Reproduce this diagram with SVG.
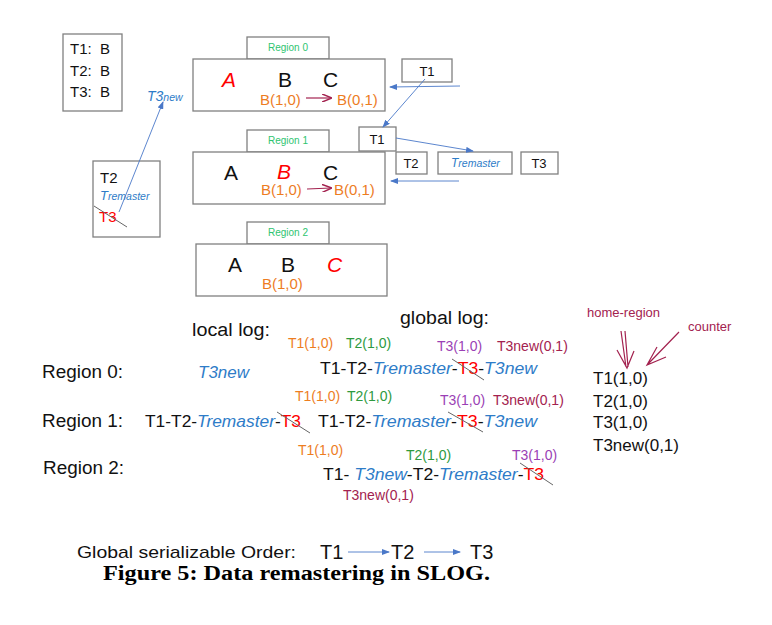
<svg xmlns="http://www.w3.org/2000/svg" width="772" height="625" viewBox="0 0 772 625">
<defs>
<style>
text{font-family:"Liberation Sans",Arial,sans-serif;}
text.cap{font-family:"Liberation Serif","Times New Roman",serif;font-weight:bold;}
.box{fill:#fff;stroke:#808080;stroke-width:1.3;}
.reg{font-size:10px;fill:#2ec46f;}
.big{font-size:21px;fill:#111;}
.red{fill:#ff0000;font-style:italic;}
.or{fill:#ed7d1f;}
.gr{fill:#2e9a3e;}
.pu{fill:#9b3fb5;}
.cr{fill:#a3224f;}
.bl{fill:#2e7cc8;font-style:italic;}
.t{fill:#111;}
.conn{stroke:#4a78c8;stroke-width:0.9;fill:none;}
.strike{stroke:#666;stroke-width:1;fill:none;}
.hand{stroke:#a3224f;stroke-width:1.2;fill:none;}
</style>
<marker id="ah" markerWidth="8" markerHeight="6" refX="7" refY="3" orient="auto" markerUnits="userSpaceOnUse">
<path d="M0,0 L8,3 L0,6 z" fill="#4a78c8"/>
</marker>
<marker id="ahd" markerWidth="10" markerHeight="8" refX="9" refY="4" orient="auto" markerUnits="userSpaceOnUse">
<path d="M0,0 L10,4 L0,8" fill="none" stroke="#a3224f" stroke-width="1.5"/>
</marker>
</defs>
<rect width="772" height="625" fill="#fff"/>

<g id="txn-map">
<rect class="box" x="63" y="34" width="59" height="77"/>
<text x="70" y="54" font-size="15" class="t">T1:</text><text x="100" y="54" font-size="15" class="t">B</text>
<text x="70" y="76" font-size="15" class="t">T2:</text><text x="100" y="76" font-size="15" class="t">B</text>
<text x="70" y="97" font-size="15" class="t">T3:</text><text x="100" y="97" font-size="15" class="t">B</text>
</g>

<g id="t3new-label">
<text x="147" y="101" class="bl" font-size="14">T3<tspan font-size="10.5">new</tspan></text>
</g>

<g id="left-box">
<rect class="box" x="93" y="161" width="67" height="76"/>
<text x="100" y="183" font-size="15" class="t">T2</text>
<text x="100" y="200" font-size="13" class="bl">T<tspan font-size="10.5">remaster</tspan></text>
<text x="99" y="222" font-size="15" fill="#ff0000">T3</text>
<line class="strike" x1="94" y1="206" x2="127" y2="227"/>
</g>

<g id="region0">
<rect class="box" x="247" y="37" width="82" height="22"/>
<text class="reg" x="288" y="51" text-anchor="middle">Region  0</text>
<rect class="box" x="193" y="59" width="192" height="52"/>
<text class="big red" x="222" y="87">A</text>
<text class="big" x="278" y="87">B</text>
<text class="big" x="323" y="87">C</text>
<text class="or" x="260" y="105" font-size="15">B(1,0)</text>
<text class="or" x="337" y="105" font-size="15">B(0,1)</text>
<line x1="306" y1="98" x2="331" y2="98" class="hand" marker-end="url(#ahd)"/>
</g>

<g id="t1-top">
<rect class="box" x="402" y="59" width="50" height="23"/>
<text x="427" y="76" font-size="13" class="t" text-anchor="middle">T1</text>
</g>

<g id="region1">
<rect class="box" x="247" y="130" width="82" height="22"/>
<text class="reg" x="288" y="144" text-anchor="middle">Region  1</text>
<rect class="box" x="193" y="152" width="192" height="52"/>
<text class="big" x="224" y="180">A</text>
<text class="big red" x="277" y="179">B</text>
<text class="big" x="323" y="180">C</text>
<text class="or" x="261" y="195" font-size="15">B(1,0)</text>
<text class="or" x="334" y="195" font-size="15">B(0,1)</text>
<line x1="307" y1="189" x2="331" y2="188" class="hand" marker-end="url(#ahd)"/>
</g>

<g id="t1-mid">
<rect class="box" x="359" y="127" width="37" height="24"/>
<text x="377" y="144" font-size="13" class="t" text-anchor="middle">T1</text>
</g>
<g id="t2-mid">
<rect class="box" x="396" y="152" width="31" height="22"/>
<text x="411" y="168" font-size="13" class="t" text-anchor="middle">T2</text>
</g>
<g id="tremaster-mid">
<rect class="box" x="438" y="152" width="74" height="22"/>
<text x="451" y="167" font-size="12" class="bl">T<tspan font-size="10.5">remaster</tspan></text>
</g>
<g id="t3-mid">
<rect class="box" x="521" y="152" width="37" height="22"/>
<text x="539" y="168" font-size="13" class="t" text-anchor="middle">T3</text>
</g>

<g id="region2">
<rect class="box" x="247" y="222" width="82" height="22"/>
<text class="reg" x="288" y="236" text-anchor="middle">Region  2</text>
<rect class="box" x="196" y="244" width="191" height="52"/>
<text class="big" x="228" y="272">A</text>
<text class="big" x="281" y="272">B</text>
<text class="big red" x="327" y="272">C</text>
<text class="or" x="262" y="289" font-size="15">B(1,0)</text>
</g>

<g id="connectors">
<line class="conn" x1="460" y1="86" x2="390" y2="87" marker-end="url(#ah)"/>
<line class="conn" x1="425" y1="79" x2="383" y2="127" marker-end="url(#ah)"/>
<line class="conn" x1="396" y1="138" x2="473" y2="151" marker-end="url(#ah)"/>
<line class="conn" x1="459" y1="181" x2="391" y2="181" marker-end="url(#ah)"/>
<line class="conn" x1="119" y1="212" x2="163" y2="102" marker-end="url(#ah)"/>
<line class="conn" x1="348" y1="552" x2="389" y2="552" marker-end="url(#ah)"/>
<line class="conn" x1="424" y1="552" x2="460" y2="552" marker-end="url(#ah)"/>
</g>

<g id="logs">
<text x="192" y="336" font-size="18" class="t" textLength="78" lengthAdjust="spacingAndGlyphs">local log:</text>
<text x="400" y="324" font-size="18" class="t" textLength="89" lengthAdjust="spacingAndGlyphs">global log:</text>

<text x="42" y="378" font-size="18" class="t" textLength="81" lengthAdjust="spacingAndGlyphs">Region 0:</text>
<text x="42" y="427" font-size="18" class="t" textLength="81" lengthAdjust="spacingAndGlyphs">Region 1:</text>
<text x="43" y="474" font-size="18" class="t" textLength="81" lengthAdjust="spacingAndGlyphs">Region 2:</text>

<text x="198" y="378" font-size="17" class="bl" textLength="51" lengthAdjust="spacingAndGlyphs">T3new</text>
<text x="145" y="427" font-size="17" class="t" textLength="156" lengthAdjust="spacingAndGlyphs">T1-T2-<tspan class="bl">Tremaster</tspan>-<tspan fill="#ff0000">T3</tspan></text>
<line class="strike" x1="277" y1="412" x2="310" y2="433"/>

<text x="288" y="348" font-size="14" class="or">T1(1,0)</text>
<text x="346" y="348" font-size="14" class="gr">T2(1,0)</text>
<text x="437" y="351" font-size="14" class="pu">T3(1,0)</text>
<text x="497" y="351" font-size="14" class="cr">T3new(0,1)</text>
<text x="320" y="374" font-size="17" class="t" textLength="217" lengthAdjust="spacingAndGlyphs">T1-T2-<tspan class="bl">Tremaster</tspan>-<tspan fill="#ff0000">T3</tspan>-<tspan class="bl">T3new</tspan></text>
<line class="strike" x1="452" y1="359" x2="484" y2="380"/>

<text x="295" y="401" font-size="14" class="or">T1(1,0)</text>
<text x="347" y="401" font-size="14" class="gr">T2(1,0)</text>
<text x="440" y="405" font-size="14" class="pu">T3(1,0)</text>
<text x="493" y="405" font-size="14" class="cr">T3new(0,1)</text>
<text x="318" y="427" font-size="17" class="t" textLength="219" lengthAdjust="spacingAndGlyphs">T1-T2-<tspan class="bl">Tremaster</tspan>-<tspan fill="#ff0000">T3</tspan>-<tspan class="bl">T3new</tspan></text>
<line class="strike" x1="448" y1="412" x2="483" y2="432"/>

<text x="298" y="455" font-size="14" class="or">T1(1,0)</text>
<text x="406" y="460" font-size="14" class="gr">T2(1,0)</text>
<text x="512" y="460" font-size="14" class="pu">T3(1,0)</text>
<text x="323" y="480" font-size="17" class="t" textLength="221" lengthAdjust="spacingAndGlyphs">T1- <tspan class="bl">T3new</tspan>-T2-<tspan class="bl">Tremaster</tspan>-<tspan fill="#ff0000">T3</tspan></text>
<line class="strike" x1="520" y1="463" x2="553" y2="485"/>
<text x="343" y="500" font-size="14" class="cr">T3new(0,1)</text>
</g>

<g id="legend">
<text x="587" y="317" font-size="13" class="cr">home-region</text>
<text x="688" y="331" font-size="13" class="cr">counter</text>
<path class="hand" d="M621,331 L626,367 M625,331 L628,367 M617,350 L627,368 L634,351"/>
<path class="hand" d="M679,332 L648,364 M657,347 L647,365 L666,357"/>
<text x="593" y="384" font-size="17" class="t">T1(1,0)</text>
<text x="593" y="407" font-size="17" class="t">T2(1,0)</text>
<text x="593" y="428" font-size="17" class="t">T3(1,0)</text>
<text x="593" y="451" font-size="17" class="t">T3new(0,1)</text>
</g>

<g id="order">
<text x="77" y="558" font-size="17" class="t" textLength="219" lengthAdjust="spacingAndGlyphs">Global serializable Order:</text>
<text x="320" y="559" font-size="20" class="t">T1</text>
<text x="391" y="559" font-size="20" class="t">T2</text>
<text x="470" y="559" font-size="20" class="t">T3</text>
</g>

<text class="cap" x="103" y="580" font-size="20" fill="#000" textLength="387" lengthAdjust="spacingAndGlyphs">Figure 5: Data remastering in SLOG.</text>
</svg>
